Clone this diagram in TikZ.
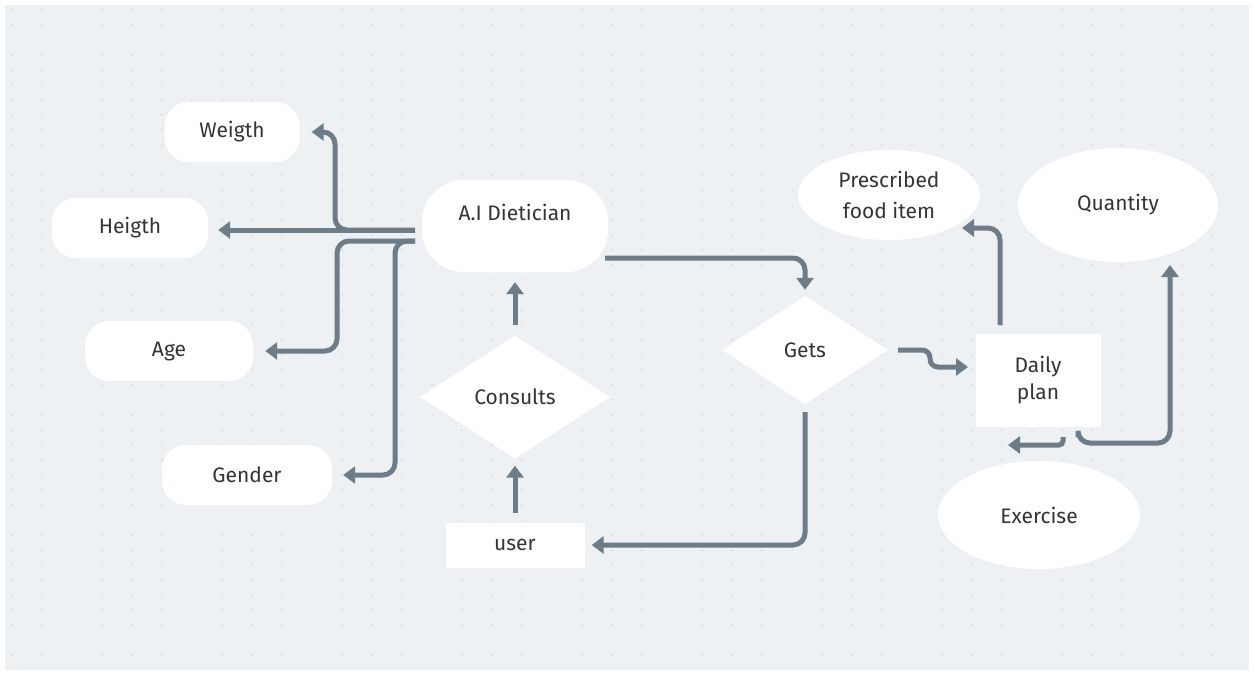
\documentclass[tikz,border=0pt]{standalone}
\usepackage{fontspec}
\setmainfont{Fira Sans}
\usetikzlibrary{shapes.geometric,arrows.meta}
\definecolor{bg}{RGB}{238,241,244}
\definecolor{dotc}{RGB}{205,210,215}
\definecolor{arc}{RGB}{110,124,136}
\definecolor{txt}{RGB}{50,52,54}
\tikzset{
  lbl/.style={text=txt, font=\fontsize{21}{24}\selectfont},
  pill/.style={lbl, fill=white, rounded corners=24pt, minimum height=60pt, inner sep=0pt},
  box/.style={lbl, fill=white, inner sep=0pt},
  dia/.style={lbl, fill=white, diamond, inner sep=0pt},
  ell/.style={lbl, fill=white, ellipse, inner sep=0pt, align=center},
  arr/.style={draw=arc, line width=5pt, rounded corners=12pt, -{Triangle[width=17pt,length=12pt]}},
}
\begin{document}
\begin{tikzpicture}[x=1pt,y=-1pt]
\useasboundingbox (0,0) rectangle (1254,675);
\fill[white] (0,0) rectangle (1254,675);
\fill[bg] (5,5) rectangle (1249,670);
\foreach \i in {0,...,40} {
  \foreach \j in {0,...,43} {
    \fill[dotc] ({12+30*\i},{10+15*\j}) circle (0.9);
  }
}
% nodes
\node[pill, minimum width=135pt] (Weigth) at (232,132) {Weigth};
\node[pill, minimum width=156pt] (Heigth) at (130,228) {Heigth};
\node[pill, minimum width=168pt] (Age) at (169,351) {Age};
\node[pill, minimum width=170pt] (Gender) at (247,475) {Gender};
\node[pill, minimum width=186pt, minimum height=92pt, rounded corners=42pt,
      label={[lbl,yshift=14pt]center:A.I Dietician}] (AI) at (515,226) {};
\node[dia, minimum width=190pt, minimum height=123pt] (Consults) at (515,397) {Consults};
\node[box, minimum width=139pt, minimum height=45pt] (user) at (515,545) {user};
\node[dia, minimum width=166pt, minimum height=108pt] (Gets) at (805,350) {Gets};
\node[box, minimum width=125pt, minimum height=93pt, align=center] (Daily) at (1038,380) {Daily\\[3pt]plan};
\node[ell, minimum width=182pt, minimum height=90pt] (Presc) at (889,195) {Prescribed\\[7pt]food item};
\node[ell, minimum width=200pt, minimum height=114pt] (Quant) at (1118,205) {Quantity};
\node[ell, minimum width=202pt, minimum height=108pt] (Exer) at (1039,515) {Exercise};
% helper coordinates
\coordinate (s1) at (415,230);
\coordinate (s2) at (415,241);
\coordinate (wk) at (335,230);
\coordinate (ak) at (337,241);
\coordinate (gk) at (395,241);
\coordinate (aiout) at (605,258);
\coordinate (g1) at (898,350);
\coordinate (g2) at (930,350);
\coordinate (g3) at (930,367);
\coordinate (g4) at (968,367);
\coordinate (d1) at (1000,325);
\coordinate (pe) at (962,228);
\coordinate (d2) at (1078,437);
\coordinate (d3) at (1078,443);
\coordinate (d4) at (1170,443);
\coordinate (qe) at (1170,265);
\coordinate (d5) at (1063,437);
\coordinate (d6) at (1063,445);
\coordinate (ee) at (1008,445);
% connectors
\draw[arr, shorten >=10pt] (s1) -- (s1 -| Heigth.east);
\draw[arr, shorten >=12pt] (s1) -- (wk) |- (Weigth.east);
\draw[arr, shorten >=12pt] (s2) -- (ak) |- (Age.east);
\draw[arr, shorten >=11pt] (s2) -- (gk) |- (Gender.east);
\draw[arr, shorten >=6pt] (aiout) -| (Gets.north);
\draw[arr, shorten <=10pt, shorten >=10pt] (Consults.north) -- (AI.south);
\draw[arr, shorten <=9pt, shorten >=7pt] (user.north) -- (Consults.south);
\draw[arr, shorten <=8pt, shorten >=7pt] (Gets.south) |- (user.east);
\draw[arr, rounded corners=8pt] (g1) -- (g2) -- (g3) -- (g4);
\draw[arr] (d1) |- (pe);
\draw[arr] (d2) -- (d3) -- (d4) -- (qe);
\draw[arr, rounded corners=4pt] (d5) -- (d6) -- (ee);
\end{tikzpicture}
\end{document}
